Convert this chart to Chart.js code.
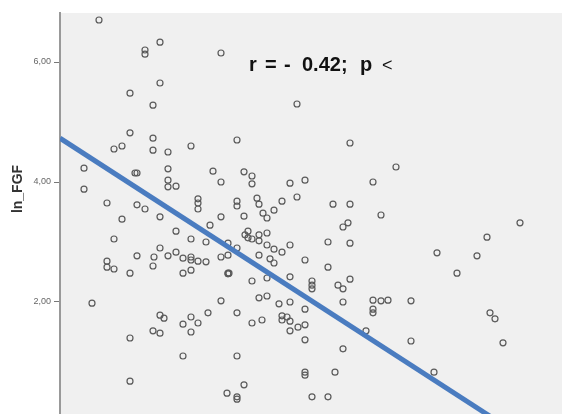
<!DOCTYPE html>
<html>
<head>
<meta charset="utf-8">
<script src="https://cdn.jsdelivr.net/npm/chart.js@4.4.1/dist/chart.umd.min.js"></script>
<style>
  html, body { margin: 0; padding: 0; background: #fff; }
  #wrap { width: 562px; height: 414px; }
</style>
</head>
<body>
<div id="wrap"><canvas id="chart" width="562" height="414"></canvas></div>
<script>
// x variable (unlabelled in the source picture)
const xValues = [
    7.8, 20.0, 17.0, 17.0, 32.2, 20.0, 14.0, 18.6, 47.4, 14.0,
    18.6, 35.4, 58.0, 10.8, 12.4, 18.6, 21.6, 26.2, 67.2, 4.8,
    15.0, 15.4, 21.6, 30.6, 36.8, 38.4, 38.4, 32.2, 21.6, 21.6,
    23.2, 4.8, 46.0, 49.0, 62.6, 9.4, 15.4, 17.0, 27.6, 27.6,
    27.6, 35.4, 35.4, 39.4, 39.8, 44.4, 42.8, 47.4, 54.6, 58.0,
    12.4, 20.0, 32.2, 36.8, 40.6, 41.4, 64.2, 10.8, 23.2, 30.0,
    26.2, 29.2, 15.4, 20.0, 18.8, 21.6, 23.2, 24.6, 26.2, 26.2,
    27.6, 29.2, 32.2, 33.6, 9.4, 9.4, 10.8, 18.6, 14.0, 24.6,
    26.2, 33.6, 33.8, 33.6, 56.6, 57.6, 37.6, 37.0, 37.6, 38.4,
    39.8, 39.8, 41.4, 41.4, 42.8, 44.4, 46.0, 53.6, 58.0, 33.6,
    35.4, 39.8, 42.0, 42.8, 49.0, 53.6, 38.4, 41.4, 46.0, 50.4,
    50.4, 50.4, 55.6, 56.6, 58.0, 92.0, 85.4, 75.4, 83.4, 79.4,
    6.4, 32.2, 20.0, 20.8, 26.2, 24.6, 27.6, 29.6, 18.6, 20.0,
    26.2, 14.0, 24.6, 14.0, 33.4, 39.8, 41.4, 43.8, 46.0, 49.0,
    56.6, 62.6, 64.2, 65.6, 62.6, 62.6, 35.4, 38.4, 40.4, 44.4,
    44.4, 45.4, 46.0, 46.0, 47.6, 49.0, 49.0, 56.6, 61.2, 35.4,
    49.0, 49.0, 55.0, 36.8, 35.4, 35.4, 50.4, 53.6, 70.2, 86.0,
    87.0, 70.2, 88.6, 74.8
];

const lnFgf = [
    6.70, 6.33, 6.20, 6.13, 6.15, 5.65, 5.48, 5.28, 5.30, 4.82,
    4.73, 4.70, 4.65, 4.55, 4.60, 4.53, 4.50, 4.60, 4.25, 4.23,
    4.15, 4.15, 4.22, 4.18, 4.17, 4.10, 3.97, 4.00, 4.03, 3.92,
    3.93, 3.88, 3.98, 4.03, 4.00, 3.65, 3.62, 3.55, 3.72, 3.65,
    3.55, 3.68, 3.60, 3.73, 3.63, 3.68, 3.53, 3.75, 3.63, 3.63,
    3.38, 3.42, 3.42, 3.43, 3.48, 3.40, 3.45, 3.05, 3.18, 3.28,
    3.05, 3.00, 2.77, 2.90, 2.75, 2.77, 2.83, 2.73, 2.75, 2.70,
    2.68, 2.67, 2.75, 2.78, 2.68, 2.58, 2.55, 2.60, 2.48, 2.48,
    2.53, 2.48, 2.48, 2.47, 3.25, 3.32, 3.18, 3.12, 3.07, 3.05,
    3.12, 3.02, 3.15, 2.95, 2.88, 2.83, 2.95, 3.00, 2.98, 2.98,
    2.90, 2.78, 2.72, 2.65, 2.70, 2.58, 2.35, 2.40, 2.42, 2.35,
    2.28, 2.22, 2.28, 2.22, 2.38, 3.32, 3.08, 2.82, 2.77, 2.48,
    1.98, 2.02, 1.78, 1.73, 1.75, 1.63, 1.65, 1.82, 1.52, 1.48,
    1.50, 1.40, 1.10, 0.68, 0.48, 2.07, 2.10, 1.97, 2.00, 1.88,
    2.00, 2.03, 2.02, 2.03, 1.88, 1.82, 1.82, 1.65, 1.70, 1.77,
    1.70, 1.75, 1.68, 1.52, 1.58, 1.62, 1.37, 1.22, 1.52, 1.10,
    0.83, 0.78, 0.83, 0.62, 0.42, 0.38, 0.42, 0.42, 2.02, 1.82,
    1.72, 1.35, 1.32, 0.83
];

// fitted line endpoints
const fitX = [0, 100.4];
const fitY = [4.73, -0.68];

const yTicks = [2, 4, 6];
const annotationParts = ['r', '=', '-', '0.42;', 'p', '<'];
const yTitle = 'ln_FGF';

const points = xValues.map((x, i) => ({ x: x, y: lnFgf[i] }));
const fitPoints = fitX.map((x, i) => ({ x: x, y: fitY[i] }));

const chartBg = {
    id: 'chartBg',
    beforeDraw(chart) {
        const { ctx, chartArea: a } = chart;
        ctx.save();
        ctx.fillStyle = '#ffffff';
        ctx.fillRect(0, 0, chart.width, chart.height);
        ctx.fillStyle = '#f0f0f0';
        ctx.fillRect(a.left, a.top, a.right - a.left, a.bottom - a.top);
        ctx.restore();
    }
};

const textLabels = {
    id: 'textLabels',
    afterDraw(chart) {
        const ctx = chart.ctx;
        ctx.save();
        ctx.fillStyle = '#111';
        ctx.font = 'bold 20px "Liberation Sans", Arial, sans-serif';
        ctx.textBaseline = 'alphabetic';
        ctx.textAlign = 'left';
        // spacing of the "r = - 0.42; p <" note as in the picture
        const xs = [249, 265, 284, 302, 360, 382];
        annotationParts.forEach((t, i) => {
            if (t === '<') ctx.font = '18px "Liberation Sans", Arial, sans-serif';
            ctx.fillText(t, xs[i], 71);
        });

        ctx.translate(18, 189);
        ctx.rotate(-Math.PI / 2);
        ctx.font = 'bold 14px "Liberation Sans", Arial, sans-serif';
        ctx.fillStyle = '#333';
        ctx.textAlign = 'center';
        ctx.textBaseline = 'middle';
        ctx.fillText(yTitle, 0, 0);
        ctx.restore();
    }
};

new Chart(document.getElementById('chart'), {
    type: 'scatter',
    data: {
        datasets: [
            {
                type: 'line',
                data: fitPoints,
                borderColor: '#4a7cc0',
                borderWidth: 5,
                pointRadius: 0,
                fill: false
            },
            {
                data: points,
                pointRadius: 3,
                pointBorderWidth: 1.2,
                pointBorderColor: '#5a5a5a',
                pointBackgroundColor: 'rgba(0,0,0,0)'
            }
        ]
    },
    options: {
        responsive: false,
        animation: false,
        layout: { autoPadding: false, padding: { top: 13, left: 0, right: 0, bottom: 0 } },
        plugins: {
            legend: { display: false },
            tooltip: { enabled: false }
        },
        scales: {
            x: {
                type: 'linear',
                min: 0,
                max: 100.4,
                display: false
            },
            y: {
                min: 0.133,
                max: 6.817,
                afterFit(scale) {
                    scale.width = 60;
                    scale.paddingTop = 0;
                    scale.paddingBottom = 0;
                },
                afterBuildTicks(scale) { scale.ticks = yTicks.map(v => ({ value: v })); },
                ticks: {
                    callback: v => v.toFixed(2).replace('.', ','),
                    font: { size: 9, family: '"Liberation Sans", Arial, sans-serif' },
                    color: '#666',
                    padding: 3
                },
                grid: {
                    drawOnChartArea: false,
                    tickLength: 6,
                    tickColor: '#777',
                    tickWidth: 1
                },
                border: { color: '#999', width: 2 }
            }
        }
    },
    plugins: [chartBg, textLabels]
});
</script>
</body>
</html>
